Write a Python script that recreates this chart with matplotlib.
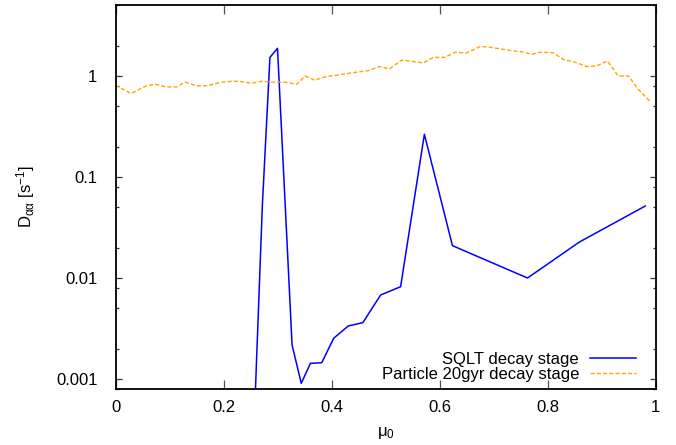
import matplotlib
matplotlib.use("Agg")
import matplotlib.pyplot as plt
from matplotlib.ticker import LogLocator, FixedLocator, NullFormatter

plt.rcParams['font.family'] = ['Liberation Sans', 'DejaVu Sans']
plt.rcParams['mathtext.fontset'] = 'custom'
plt.rcParams['mathtext.rm'] = 'Liberation Sans'
plt.rcParams['mathtext.it'] = 'Liberation Sans'
plt.rcParams['mathtext.sf'] = 'Liberation Sans'

# SQLT decay stage
sqlt_mu = [0.255, 0.272, 0.286, 0.300, 0.327, 0.344, 0.361, 0.382, 0.404,
           0.431, 0.458, 0.491, 0.528, 0.572, 0.624, 0.763, 0.859, 0.981]
sqlt_d = [2e-4, 0.053, 1.53, 1.88, 0.00217, 0.000906, 0.00143, 0.00145, 0.00253,
          0.00335, 0.00361, 0.00679, 0.0082, 0.265, 0.0209, 0.0100, 0.0227, 0.0516]

# Particle 20gyr decay stage
part_mu = [0.0, 0.029, 0.057, 0.073, 0.094, 0.113, 0.129, 0.150, 0.168, 0.196,
           0.218, 0.233, 0.251, 0.273, 0.289, 0.313, 0.336, 0.351, 0.369, 0.391,
           0.410, 0.431, 0.450, 0.468, 0.489, 0.508, 0.530, 0.549, 0.570, 0.589,
           0.610, 0.629, 0.650, 0.674, 0.687, 0.712, 0.734, 0.752, 0.771, 0.786,
           0.811, 0.829, 0.851, 0.873, 0.891, 0.911, 0.931, 0.950, 0.968, 0.990]
part_d = [0.81, 0.67, 0.80, 0.83, 0.78, 0.78, 0.87, 0.80, 0.80, 0.87,
          0.89, 0.88, 0.85, 0.89, 0.87, 0.87, 0.83, 1.00, 0.91, 0.99,
          1.02, 1.06, 1.10, 1.13, 1.24, 1.18, 1.44, 1.40, 1.35, 1.53,
          1.53, 1.72, 1.69, 1.95, 1.95, 1.86, 1.78, 1.74, 1.64, 1.72,
          1.70, 1.46, 1.37, 1.24, 1.26, 1.41, 1.00, 1.00, 0.74, 0.56]

x_ticks = [0, 0.2, 0.4, 0.6, 0.8, 1]
x_ticklabels = ['0', '0.2', '0.4', '0.6', '0.8', '1']
y_ticks = [0.001, 0.01, 0.1, 1]
y_ticklabels = ['0.001', '0.01', '0.1', '1']

W, H = 676, 445
fig = plt.figure(figsize=(W / 100, H / 100), dpi=100)
L, R, T, B = 115.5, 655.5, 5, 389
ax = fig.add_axes([L / W, 1 - B / H, (R - L) / W, (B - T) / H])

ax.plot(sqlt_mu, sqlt_d, color='#0000ff', lw=1.1, label='SQLT decay stage')
ax.plot(part_mu, part_d, color='#ffa500', lw=1.0, dashes=[3, 1.5],
        label='Particle 20gyr decay stage')

ax.set_yscale('log')
ax.set_xlim(0, 1)
ax.set_ylim(0.000796, 5.05)

ax.set_xticks(x_ticks)
ax.set_xticklabels(x_ticklabels)
ax.set_yticks(y_ticks)
ax.set_yticklabels(y_ticklabels)
ax.yaxis.set_minor_locator(LogLocator(base=10, subs=(2, 5, 8)))
ax.yaxis.set_minor_formatter(NullFormatter())
ax.xaxis.set_minor_locator(FixedLocator([]))

fs = 12
ax.tick_params(axis='x', which='major', direction='in', top=True, length=6.5,
               width=0.9, color='#555555', labelsize=fs, pad=8)
ax.tick_params(axis='y', which='major', direction='in', right=True, length=4,
               width=0.9, color='#333333', labelsize=fs, pad=13)
ax.tick_params(axis='y', which='minor', direction='in', right=True, length=2.5,
               width=0.9, color='#333333')
for s in ax.spines.values():
    s.set_linewidth(1.3)
    s.set_color('black')

ax.set_xlabel(r'$\mu_0$', fontsize=fs)
ax.xaxis.set_label_coords(0.5, -0.095)
ax.set_ylabel(r'D$_{\alpha\alpha}$ [s$^{-1}$]', fontsize=fs)
ax.yaxis.set_label_coords(-0.145, 0.5)

leg = ax.legend(loc='lower right', bbox_to_anchor=(636 / W, 1 - 382 / H),
                bbox_transform=fig.transFigure, frameon=False, markerfirst=False,
                fontsize=fs, handlelength=2.76, handletextpad=0.66,
                labelspacing=0.0, borderpad=0, borderaxespad=0)

fig.savefig('out.png', dpi=100)
